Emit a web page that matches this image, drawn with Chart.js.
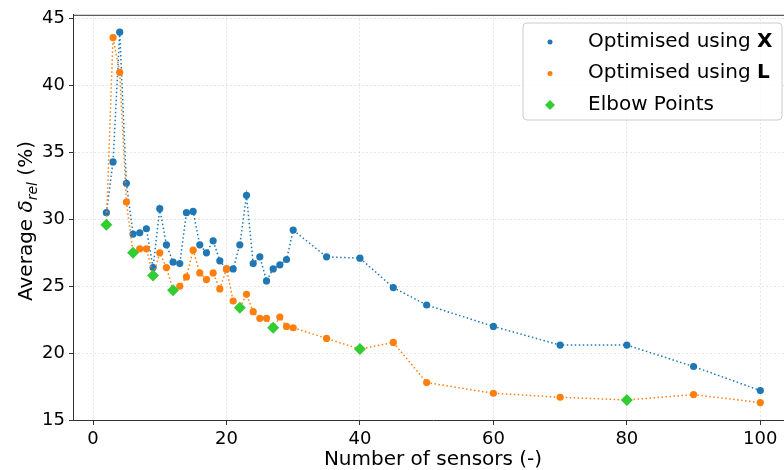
<!DOCTYPE html>
<html>
<head>
<meta charset="utf-8">
<script src="https://cdn.jsdelivr.net/npm/chart.js@4.4.1/dist/chart.umd.min.js"></script>
<style>
  html, body { margin: 0; padding: 0; overflow: hidden; background: #fff; }
  #wrap { width: 784px; height: 470px; overflow: hidden; }
</style>
</head>
<body>
<div id="wrap"><canvas id="sensorChart" width="800" height="470"></canvas></div>
<script>
// number of sensors and average relative error (%) for both optimisations
const sensors = [2, 3, 4, 5, 6, 7, 8, 9, 10, 11, 12, 13, 14, 15, 16, 17, 18, 19, 20,
  21, 22, 23, 24, 25, 26, 27, 28, 29, 30, 35, 40, 45, 50, 60, 70, 80, 90, 100];
const deltaX = [30.5, 34.3, 44.0, 32.7, 28.9, 29.0, 29.3, 26.4, 30.8, 28.1, 26.8, 26.7, 30.5, 30.6, 28.1, 27.5, 28.4, 26.9, 26.3,
  26.3, 28.1, 31.8, 26.7, 27.2, 25.4, 26.3, 26.6, 27.0, 29.2, 27.2, 27.1, 24.9, 23.6, 22.0, 20.6, 20.6, 19.0, 17.2];
const deltaL = [29.6, 43.6, 41.0, 31.3, 27.5, 27.8, 27.8, 25.8, 27.5, 26.4, 24.7, 25.0, 25.7, 27.7, 26.0, 25.5, 26.0, 24.8, 26.3,
  23.9, 23.4, 24.4, 23.1, 22.6, 22.6, 21.9, 22.7, 22.0, 21.9, 21.1, 20.3, 20.8, 17.8, 17.0, 16.7, 16.5, 16.9, 16.3];
const elbowSensors = [2, 6, 9, 12, 22, 27, 40, 80];
const elbowDelta = [29.6, 27.5, 25.8, 24.7, 23.4, 21.9, 20.3, 16.5];

const xTicks = [0, 20, 40, 60, 80, 100];
const yTicks = [15, 20, 25, 30, 35, 40, 45];
const legendNames = ['Optimised using ', 'Optimised using ', 'Elbow Points'];
const legendBold = ['X', 'L', ''];

const FONT = "'DejaVu Sans', sans-serif";
const BLUE = '#1f77b4';
const ORANGE = '#ff7f0e';
const GREEN = '#32cd32';
const SPINE = '#333333';
const GRID = 'rgba(0,0,0,0.1)';

const toXY = (xs, ys) => xs.map((x, i) => ({ x: x, y: ys[i] }));

// top spine, rotated y label with subscript, and the legend box
const extras = {
  id: 'extras',
  afterDraw(chart) {
    const ctx = chart.ctx;
    const area = chart.chartArea;

    ctx.save();
    ctx.strokeStyle = SPINE;
    ctx.lineWidth = 1;
    ctx.beginPath();
    ctx.moveTo(area.left, area.top + 0.5);
    ctx.lineTo(area.right, area.top + 0.5);
    ctx.stroke();
    ctx.restore();

    // y axis title: Average δ_rel (%)
    const parts = [
      { t: 'Average ', f: `20px ${FONT}`, dy: 0 },
      { t: 'δ', f: `italic 20px ${FONT}`, dy: 0 },
      { t: 'rel', f: `italic 14px ${FONT}`, dy: 5 },
      { t: ' (%)', f: `20px ${FONT}`, dy: 0 }
    ];
    ctx.save();
    let total = 0;
    parts.forEach(p => { ctx.font = p.f; p.w = ctx.measureText(p.t).width; total += p.w; });
    ctx.translate(32, 221);
    ctx.rotate(-Math.PI / 2);
    ctx.fillStyle = '#000';
    ctx.textBaseline = 'alphabetic';
    let pos = -total / 2;
    parts.forEach(p => { ctx.font = p.f; ctx.fillText(p.t, pos, p.dy); pos += p.w; });
    ctx.restore();

    // legend
    ctx.save();
    const bx = 523, by = 23, bw = 259, bh = 97, r = 4;
    ctx.beginPath();
    ctx.moveTo(bx + r, by);
    ctx.arcTo(bx + bw, by, bx + bw, by + bh, r);
    ctx.arcTo(bx + bw, by + bh, bx, by + bh, r);
    ctx.arcTo(bx, by + bh, bx, by, r);
    ctx.arcTo(bx, by, bx + bw, by, r);
    ctx.closePath();
    ctx.fillStyle = 'rgba(255,255,255,0.8)';
    ctx.fill();
    ctx.strokeStyle = '#cccccc';
    ctx.lineWidth = 1;
    ctx.stroke();

    const colors = [BLUE, ORANGE, GREEN];
    const baselines = [46.5, 78, 109.5];
    legendNames.forEach((name, i) => {
      const my = baselines[i] - 4.5;
      ctx.fillStyle = colors[i];
      ctx.beginPath();
      if (i < 2) {
        ctx.arc(550, my, 2.5, 0, Math.PI * 2);
      } else {
        ctx.moveTo(545, my);
        ctx.lineTo(550, my - 5);
        ctx.lineTo(555, my);
        ctx.lineTo(550, my + 5);
        ctx.closePath();
      }
      ctx.fill();

      ctx.fillStyle = '#000';
      ctx.textBaseline = 'alphabetic';
      ctx.font = `20px ${FONT}`;
      ctx.fillText(name, 588, baselines[i]);
      if (legendBold[i]) {
        const w = ctx.measureText(name).width;
        ctx.font = `bold 20px ${FONT}`;
        ctx.fillText(legendBold[i], 588 + w, baselines[i]);
      }
    });
    ctx.restore();
  }
};

const lineSeries = (data, color, order) => ({
  data: data,
  borderColor: color,
  backgroundColor: color,
  borderWidth: 1.5,
  borderDash: [1.5, 2.5],
  pointRadius: 3.6,
  pointHoverRadius: 3.6,
  pointBorderWidth: 0,
  tension: 0,
  fill: false,
  order: order
});

new Chart(document.getElementById('sensorChart'), {
  type: 'line',
  data: {
    datasets: [
      lineSeries(toXY(sensors, deltaX), BLUE, 3),
      lineSeries(toXY(sensors, deltaL), ORANGE, 2),
      {
        data: toXY(elbowSensors, elbowDelta),
        showLine: false,
        pointStyle: 'rectRot',
        pointRadius: 6,
        pointHoverRadius: 6,
        pointBorderWidth: 0,
        backgroundColor: GREEN,
        borderColor: GREEN,
        order: 1
      }
    ]
  },
  options: {
    responsive: false,
    animation: false,
    events: [],
    layout: { padding: { left: 0, top: 12, right: 7, bottom: 0 } },
    plugins: {
      legend: { display: false },
      tooltip: { enabled: false }
    },
    scales: {
      x: {
        type: 'linear',
        min: -3,
        max: 104.9,
        afterBuildTicks: s => { s.ticks = xTicks.map(v => ({ value: v })); },
        afterFit: s => { s.height = 50; },
        ticks: { font: { family: FONT, size: 18 }, color: '#000', padding: 4, maxRotation: 0 },
        grid: { color: GRID, lineWidth: 1, tickColor: SPINE, tickLength: 5, tickWidth: 1 },
        border: { display: true, color: SPINE, width: 1, dash: [2, 2] },
        title: {
          display: true,
          text: 'Number of sensors (-)',
          font: { family: FONT, size: 20 },
          color: '#000',
          padding: { top: 0, bottom: -2 }
        }
      },
      y: {
        type: 'linear',
        min: 15,
        max: 45.3,
        afterBuildTicks: s => { s.ticks = yTicks.map(v => ({ value: v })); },
        afterFit: s => { s.width = 73; },
        ticks: { font: { family: FONT, size: 18 }, color: '#000', padding: 4 },
        grid: { color: GRID, lineWidth: 1, tickColor: SPINE, tickLength: 4, tickWidth: 1 },
        border: { display: true, color: SPINE, width: 1, dash: [2, 2] }
      }
    }
  },
  plugins: [extras]
});
</script>
</body>
</html>
